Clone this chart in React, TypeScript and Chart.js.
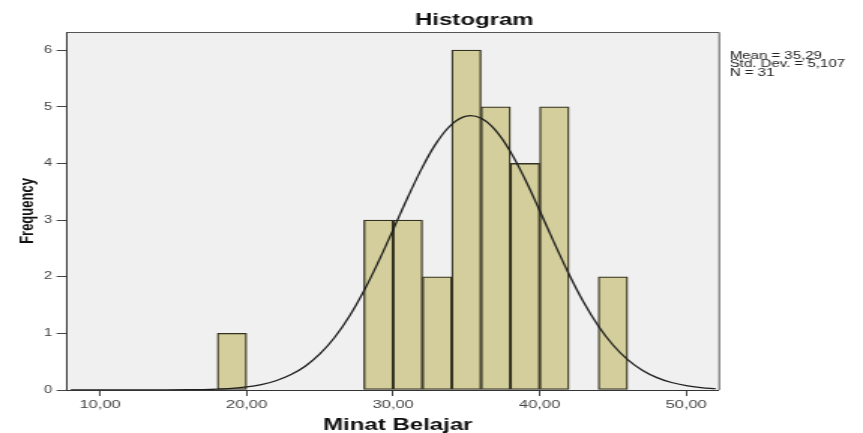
import React, { useEffect, useRef } from "react";
import { Chart, registerables } from "chart.js";

Chart.register(...registerables);

// ---- data ----
const binCenters = [19, 29, 31, 33, 35, 37, 39, 41, 45];
const frequencies = [1, 3, 3, 2, 6, 5, 4, 5, 2];

// fitted normal curve at whole-number x values
const curveX = [
  8, 10, 12, 14, 16, 18, 19, 20, 21, 22, 23, 24, 25, 26, 27, 28, 29, 30, 31, 32,
  33, 34, 35, 36, 37, 38, 39, 40, 41, 42, 43, 44, 45, 46, 47, 48, 49, 50, 51, 52,
];
const curveY = [
  0.0, 0.0, 0.0001, 0.0008, 0.004, 0.016, 0.03, 0.055, 0.097, 0.164, 0.268, 0.42,
  0.636, 0.926, 1.297, 1.748, 2.268, 2.832, 3.403, 3.935, 4.38, 4.691, 4.835,
  4.796, 4.579, 4.207, 3.72, 3.165, 2.592, 2.043, 1.549, 1.131, 0.795, 0.537,
  0.35, 0.219, 0.132, 0.077, 0.043, 0.023,
];

const xTicks = [10, 20, 30, 40, 50];
const yTicks = [0, 1, 2, 3, 4, 5, 6];

const chartTitle = "Histogram";
const xTitle = "Minat Belajar";
const yTitle = "Frequency";
const statsLines = ["Mean = 35,29", "Std. Dev. = 5,107", "N = 31"];

const FONT = 'Arial, "Liberation Sans", sans-serif';
const CANVAS_W = 575;
const CANVAS_H = 433;

const textPlugin = {
  id: "spssText",
  beforeDraw(chart: any) {
    const { ctx, chartArea } = chart;
    ctx.save();
    ctx.fillStyle = "#ffffff";
    ctx.fillRect(0, 0, chart.width, chart.height);
    ctx.fillStyle = "#f0f0f0";
    ctx.fillRect(
      chartArea.left,
      chartArea.top,
      chartArea.right - chartArea.left,
      chartArea.bottom - chartArea.top
    );
    ctx.restore();
  },
  afterDraw(chart: any) {
    const { ctx, chartArea } = chart;
    ctx.save();
    // top / right frame
    ctx.strokeStyle = "#555555";
    ctx.lineWidth = 1;
    ctx.beginPath();
    ctx.moveTo(chartArea.left, chartArea.top + 0.5);
    ctx.lineTo(chartArea.right + 0.5, chartArea.top + 0.5);
    ctx.lineTo(chartArea.right + 0.5, chartArea.bottom);
    ctx.stroke();

    ctx.fillStyle = "#111111";
    // title
    ctx.font = `bold 16px ${FONT}`;
    ctx.textAlign = "center";
    ctx.textBaseline = "alphabetic";
    ctx.fillText(chartTitle, 316, 25);
    // x title
    ctx.font = `bold 16px ${FONT}`;
    ctx.fillText(xTitle, 265, 430);
    // y title
    ctx.save();
    ctx.translate(18, (chartArea.top + chartArea.bottom) / 2);
    ctx.rotate(-Math.PI / 2);
    ctx.font = `bold 13px ${FONT}`;
    ctx.textAlign = "center";
    ctx.textBaseline = "middle";
    ctx.fillText(yTitle, 0, 0);
    ctx.restore();
    // stats
    ctx.font = `10px ${FONT}`;
    ctx.fillStyle = "#222222";
    ctx.textAlign = "left";
    ctx.textBaseline = "alphabetic";
    statsLines.forEach((s, i) => ctx.fillText(s, chartArea.right + 7.5, 58.5 + i * 8.5));
    ctx.restore();
  },
};

export default function App() {
  const ref = useRef<HTMLCanvasElement | null>(null);

  useEffect(() => {
    if (!ref.current) return;
    const chart = new Chart(ref.current, {
      type: "bar",
      data: {
        datasets: [
          {
            type: "line",
            data: curveX.map((x, i) => ({ x, y: curveY[i] })),
            borderColor: "#1e1e1e",
            borderWidth: 1.3,
            pointRadius: 0,
            tension: 0.4,
            fill: false,
            order: 0,
          } as any,
          {
            type: "bar",
            data: binCenters.map((x, i) => ({ x, y: frequencies[i] })),
            backgroundColor: "#d3ce9b",
            borderColor: "#33311f",
            borderWidth: 1.3,
            borderSkipped: false,
            barPercentage: 1,
            categoryPercentage: 1,
            order: 1,
          } as any,
        ],
      },
      options: {
        responsive: false,
        animation: false,
        devicePixelRatio: 1,
        layout: { padding: { left: 0, right: CANVAS_W - 478.7, top: 32, bottom: 0 } },
        plugins: {
          legend: { display: false },
          tooltip: { enabled: false },
          title: { display: false },
        },
        scales: {
          x: {
            type: "linear",
            min: 7.75,
            max: 52.2,
            offset: false,
            afterBuildTicks: (scale: any) => {
              scale.ticks = xTicks.map((v) => ({ value: v }));
            },
            afterFit: (scale: any) => {
              scale.height = 43;
            },
            ticks: {
              padding: 2,
              color: "#444444",
              font: { family: FONT, size: 11 },
              maxRotation: 0,
              autoSkip: false,
              callback: (v: any) => Number(v).toFixed(2).replace(".", ","),
            },
            grid: {
              offset: false,
              drawOnChartArea: false,
              drawTicks: true,
              tickLength: 6,
              color: "#444444",
            },
            border: { display: true, color: "#333333", width: 1 },
          },
          y: {
            type: "linear",
            min: 0,
            max: 6.32,
            afterBuildTicks: (scale: any) => {
              scale.ticks = yTicks.map((v) => ({ value: v }));
            },
            afterFit: (scale: any) => {
              scale.width = 44.7;
            },
            ticks: {
              padding: 3,
              color: "#444444",
              font: { family: FONT, size: 10 },
              callback: (v: any) => String(v),
            },
            grid: {
              drawOnChartArea: false,
              drawTicks: true,
              tickLength: 7,
              color: "#444444",
            },
            border: { display: true, color: "#333333", width: 1 },
          },
        },
      },
      plugins: [textPlugin],
    });
    return () => chart.destroy();
  }, []);

  return (
    <div
      style={{
        position: "absolute",
        left: 0,
        top: 0,
        width: CANVAS_W,
        height: CANVAS_H,
        transform: `scaleX(${863 / CANVAS_W})`,
        transformOrigin: "0 0",
      }}
    >
      <canvas ref={ref} width={CANVAS_W} height={CANVAS_H} style={{ display: "block" }} />
    </div>
  );
}
